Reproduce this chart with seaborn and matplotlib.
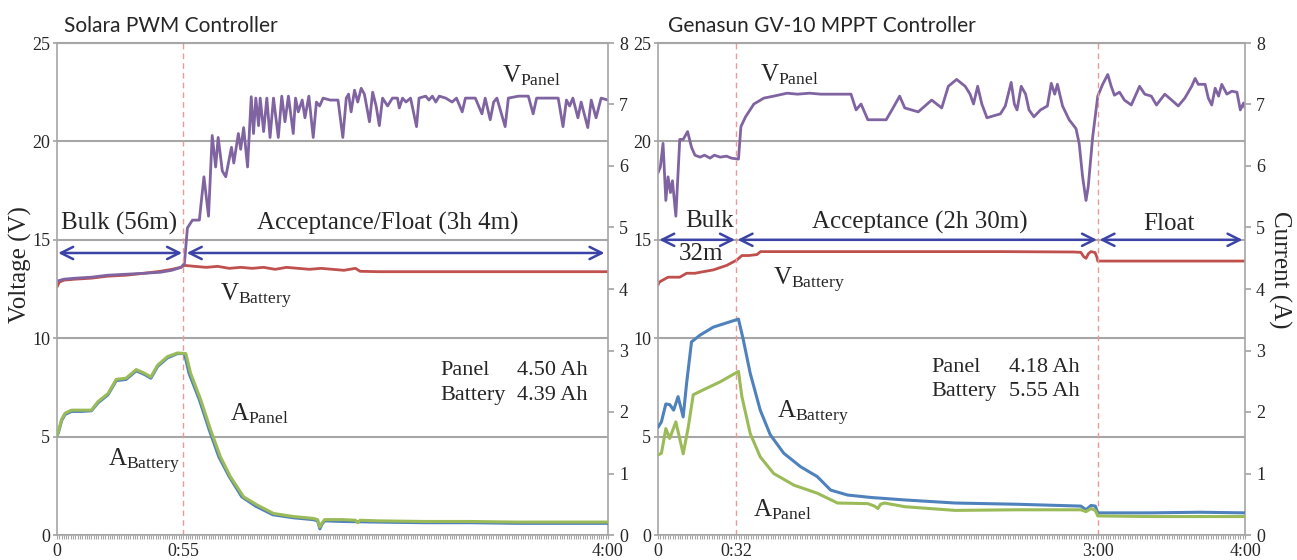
import numpy as np
import pandas as pd
import matplotlib.pyplot as plt
import seaborn as sns
from matplotlib.ticker import MultipleLocator

# ---- Solara PWM (left) ----
pwm_vp_t = [0, 3, 8, 15, 22, 30, 38, 45, 50, 54, 55.5, 56.8, 59, 62, 64, 66, 67.6, 69.1, 70.2, 72,
            73.5, 76, 77, 79, 80, 81.3, 83, 84.6, 85.6, 86.6, 87.8, 88.5, 90.0, 91.4, 92.8, 94.3, 96.4,
            97.9, 99.3, 100.8, 102.9, 103.9, 105.1, 106.8, 108.0, 109.7, 111.6, 113.0, 114.4, 115.9,
            119, 122.4, 124.5, 126.0, 127.0, 128.1, 129.6, 131.0, 132.5, 133.9, 136.1, 137.5, 139.0,
            140.4, 141.8, 144.0, 146.1, 148.3, 149.1, 150.5, 152.0, 154, 156.6, 157.7, 160.6, 162,
            163.5, 165, 166.5, 169.3, 172.1, 174, 176.5, 177.9, 182.2, 185.1, 186.5, 188.7, 190.2,
            191.6, 195.2, 196.6, 201.0, 205.3, 207.4, 208.9, 212.5, 218.3, 220.4, 221.9, 223.3, 224.7,
            226.9, 228.3, 231.2, 232.7, 234.8, 237.0, 240]
pwm_vp = [12.9, 13.0, 13.05, 13.1, 13.2, 13.25, 13.3, 13.35, 13.45, 13.6, 13.8, 15.6, 16.0, 16.0, 18.2,
          16.2, 20.3, 18.7, 20.2, 18.5, 18.2, 19.7, 18.9, 20.4, 19.6, 20.7, 18.7, 22.27, 20.4, 22.2,
          20.8, 22.2, 20.5, 22.2, 20.2, 22.2, 20.2, 22.3, 21.0, 22.3, 20.4, 22.2, 21.5, 22.1, 21.2,
          22.3, 20.2, 22.0, 21.8, 22.2, 22.1, 22.1, 20.2, 22.2, 22.4, 21.5, 22.6, 22.0, 22.7, 22.4,
          21.0, 22.5, 21.8, 20.8, 22.2, 21.8, 22.2, 22.2, 21.7, 22.2, 22.0, 22.2, 20.75, 22.2, 22.3,
          22.1, 22.3, 22.0, 22.3, 22.2, 22.0, 22.2, 21.5, 22.2, 22.2, 21.4, 22.2, 21.1, 22.0, 22.2,
          20.75, 22.2, 22.3, 22.3, 21.4, 22.2, 22.2, 22.2, 20.75, 22.1, 21.8, 22.2, 21.2, 22.0, 20.7,
          22.1, 21.2, 22.2, 22.1]

pwm_vb_t = [0, 1, 3, 8, 15, 22, 30, 38, 45, 50, 54, 55.5, 60, 65, 70, 75, 80, 85, 90, 95, 100, 105,
            110, 115, 120, 125, 130, 132, 140, 160, 180, 200, 220, 240]
pwm_vb = [12.6, 12.85, 12.95, 13.0, 13.05, 13.15, 13.2, 13.3, 13.4, 13.5, 13.6, 13.7, 13.65, 13.6,
          13.65, 13.55, 13.6, 13.55, 13.6, 13.5, 13.6, 13.55, 13.5, 13.55, 13.5, 13.45, 13.55, 13.4,
          13.38, 13.38, 13.38, 13.38, 13.38, 13.38]

pwm_ap_t = [0, 0.6, 2, 3.5, 6.3, 10.7, 15, 17.9, 22.2, 25.8, 30.1, 34.5, 38.1, 40.9, 43.8, 48.1, 52.5,
            56.1, 58.2, 62.6, 66.9, 71.2, 75.5, 81.3, 87.1, 94.3, 103, 111.6, 113.5, 114.5, 115.5,
            116.6, 124.5, 130, 131, 132, 140, 160, 180, 200, 220, 240]
pwm_ap = [1.62, 1.68, 1.88, 1.98, 2.03, 2.03, 2.03, 2.17, 2.30, 2.53, 2.55, 2.69, 2.63, 2.57, 2.76,
          2.90, 2.96, 2.95, 2.63, 2.20, 1.71, 1.27, 0.95, 0.62, 0.49, 0.35, 0.30, 0.27, 0.25, 0.13,
          0.20, 0.25, 0.25, 0.24, 0.20, 0.24, 0.23, 0.22, 0.22, 0.21, 0.21, 0.21]

pwm_ab_t = [0, 0.6, 2, 3.5, 6.3, 10.7, 15, 17.9, 22.2, 25.8, 30.1, 34.5, 38.1, 40.9, 43.8, 48.1, 52.5,
            55.5, 57.5, 62, 66.3, 70.5, 75, 80.5, 86.5, 94, 103, 111.6, 113.5, 114.5, 115.5, 116.6,
            124.5, 140, 160, 180, 200, 220, 240]
pwm_ab = [1.62, 1.66, 1.86, 1.96, 2.01, 2.01, 2.02, 2.15, 2.28, 2.51, 2.53, 2.67, 2.61, 2.55, 2.74,
          2.88, 2.95, 2.95, 2.63, 2.20, 1.71, 1.27, 0.95, 0.62, 0.47, 0.33, 0.28, 0.25, 0.23, 0.10,
          0.18, 0.23, 0.22, 0.21, 0.20, 0.20, 0.19, 0.19, 0.19]

# ---- Genasun GV-10 MPPT (right) ----
mppt_vp_t = [0, 0.96, 2.06, 3.2, 4.1, 5.1, 5.9, 7.3, 8.9, 10.3, 12.1, 13.7, 15.1, 17.2, 19, 21.3, 23,
             25.4, 28, 30, 32.9, 33.9, 35.8, 39.2, 43.3, 47.3, 52.8, 57, 62, 66.6, 72, 78.9, 81.0,
             83.0, 85.8, 89.9, 93.3, 96.1, 98.8, 100.9, 106.4, 111.9, 116.0, 118.7, 122.1, 125.6,
             127.6, 129.0, 130.7, 132.4, 134.5, 140.0, 142.0, 144.4, 145.7, 146.8, 148.5, 150.3,
             151.7, 153.7, 156.4, 159.2, 160.8, 162.2, 163.3, 165.4, 168.1, 170.9, 172.2, 173.6,
             175.0, 175.9, 177.7, 179.8, 181.8, 183.9, 185.3, 186.6, 188.7, 190.7, 193.5, 196.9,
             199.0, 201.7, 203.8, 207.2, 210.0, 212.7, 215.4, 218.2, 219.6, 220.9, 223.7, 225.0,
             226.4, 227.8, 229.2, 230.5, 232.6, 234.6, 236.7, 238.1, 239.4, 240]
mppt_vp = [18.4, 18.7, 19.9, 17.0, 18.2, 17.4, 18.0, 16.2, 20.1, 20.1, 20.5, 19.7, 19.3, 19.2, 19.3,
           19.15, 19.3, 19.2, 19.25, 19.15, 19.1, 20.75, 21.25, 21.9, 22.2, 22.3, 22.45, 22.4, 22.45,
           22.4, 22.4, 22.4, 21.6, 21.9, 21.1, 21.1, 21.1, 21.7, 22.3, 21.7, 21.5, 22.1, 21.7, 22.8,
           23.15, 22.8, 22.4, 21.9, 22.8, 21.9, 21.2, 21.4, 21.8, 23.0, 21.9, 21.6, 22.8, 22.4, 21.6,
           21.25, 21.6, 21.8, 22.95, 22.4, 22.9, 21.8, 21.1, 20.65, 19.9, 18.2, 17.0, 17.7, 20.2,
           22.3, 22.9, 23.4, 22.8, 22.35, 22.5, 22.1, 21.85, 22.8, 22.4, 22.3, 21.85, 22.4, 22.1,
           21.8, 22.2, 22.8, 23.2, 22.9, 22.9, 22.2, 21.85, 22.7, 22.3, 22.9, 22.4, 22.55, 22.5,
           21.6, 21.95, 21.7]

mppt_vb_t = [0, 0.5, 2.06, 4.1, 8.9, 11.7, 15.1, 17.2, 22.6, 28.1, 32.2, 34.3, 37, 40.5, 41.9, 60,
             100, 140, 170, 172.9, 174, 175, 176, 177, 178.7, 179.5, 179.8, 200, 220, 240]
mppt_vb = [12.7, 12.85, 12.96, 13.1, 13.1, 13.3, 13.3, 13.35, 13.47, 13.7, 13.97, 14.2, 14.2, 14.25,
           14.4, 14.4, 14.4, 14.4, 14.38, 14.36, 14.15, 14.06, 14.3, 14.4, 14.35, 14.1, 13.92, 13.92,
           13.92, 13.92]

mppt_ab_t = [0, 1.4, 3.2, 4.8, 6.4, 8.2, 10.3, 11.7, 13.7, 17.2, 22.6, 28.1, 32.9, 34.9, 37.7, 41.8,
             45.9, 51.4, 58.3, 65.1, 70.6, 77.5, 87.1, 100.9, 121.5, 146.8, 172.9, 175, 177, 178.8,
             179.8, 201.7, 221.6, 240]
mppt_ab = [1.75, 1.84, 2.13, 2.12, 2.03, 2.25, 1.92, 2.47, 3.14, 3.25, 3.38, 3.45, 3.51, 3.17, 2.63,
           2.03, 1.63, 1.33, 1.11, 0.95, 0.73, 0.65, 0.61, 0.57, 0.52, 0.50, 0.47, 0.41, 0.48, 0.47,
           0.36, 0.36, 0.37, 0.36]

mppt_ap_t = [0, 1.4, 3.2, 4.8, 7.3, 10.3, 12.4, 14.4, 18.5, 25.4, 32.9, 34.3, 37.7, 41.8, 47.3, 55.6,
             65.1, 73.4, 85.8, 88.5, 89.9, 91, 92.6, 100.9, 121.5, 146.8, 172.9, 175, 177, 178.8,
             179.8, 201.7, 240]
mppt_ap = [1.30, 1.33, 1.73, 1.57, 1.84, 1.32, 1.76, 2.28, 2.36, 2.49, 2.66, 2.25, 1.65, 1.27, 1.00,
           0.81, 0.68, 0.52, 0.51, 0.47, 0.43, 0.50, 0.52, 0.46, 0.40, 0.41, 0.41, 0.38, 0.43, 0.40,
           0.31, 0.30, 0.30]

# phase boundaries (minutes) and tick labels
pwm_ticks, pwm_ticklabels = [0, 55, 240], ['0', '0:55', '4:00']
mppt_ticks, mppt_ticklabels = [0, 32, 180, 240], ['0', '0:32', '3:00', '4:00']

C_VP, C_VB, C_AB, C_AP = '#8064A2', '#C0504D', '#4F81BD', '#9BBB59'
C_ARROW = '#3B44A6'
GRID = '#A6A6A6'

sns.set_theme(style='white')
plt.rcParams['font.family'] = ['Liberation Serif', 'DejaVu Serif']
plt.rcParams['mathtext.fontset'] = 'stix'

fig = plt.figure(figsize=(12.97, 5.6), dpi=100)
W, H = 1297, 560
ax1 = fig.add_axes([57 / W, 1 - 535 / H, 551 / W, 492 / H])
ax2 = fig.add_axes([658 / W, 1 - 535 / H, 587 / W, 492 / H])


def setup(ax, ticks, labels, left_labels=True):
    ax.set_xlim(0, 240)
    ax.set_ylim(0, 25)
    ax.set_yticks([0, 5, 10, 15, 20, 25])
    ax.grid(axis='y', color=GRID, lw=1.5)
    ax.grid(axis='x', visible=False)
    for s in ax.spines.values():
        s.set_color(GRID)
        s.set_linewidth(1.2)
    ax.spines['top'].set_linewidth(1.5)
    ax.set_xticks(ticks)
    ax.set_xticklabels(labels)
    ax.xaxis.set_minor_locator(MultipleLocator(1))
    ax.tick_params(axis='x', which='both', bottom=True, length=3, width=0.8, color=GRID,
                   labelsize=13, pad=3)
    ax.tick_params(axis='y', left=True, length=3, color=GRID, labelsize=13, pad=2)
    ax.set_xlabel('')
    ax.set_ylabel('')
    tw = ax.twinx()
    tw.set_ylim(0, 8)
    tw.set_yticks(range(0, 9))
    tw.tick_params(axis='y', right=True, length=4, color=GRID, labelsize=13, pad=4)
    tw.grid(False)
    for s in tw.spines.values():
        s.set_visible(False)
    return tw


tw1 = setup(ax1, pwm_ticks, pwm_ticklabels)
tw2 = setup(ax2, mppt_ticks, mppt_ticklabels)

kw = dict(estimator=None, legend=False, sort=False)
sns.lineplot(x=pwm_vb_t, y=pwm_vb, ax=ax1, color=C_VB, lw=2, **kw)
sns.lineplot(x=pwm_vp_t, y=pwm_vp, ax=ax1, color=C_VP, lw=2, **kw)
sns.lineplot(x=pwm_ab_t, y=pwm_ab, ax=tw1, color=C_AB, lw=2.2, **kw)
sns.lineplot(x=pwm_ap_t, y=pwm_ap, ax=tw1, color=C_AP, lw=2.2, **kw)

sns.lineplot(x=mppt_vb_t, y=mppt_vb, ax=ax2, color=C_VB, lw=2, **kw)
sns.lineplot(x=mppt_vp_t, y=mppt_vp, ax=ax2, color=C_VP, lw=2, **kw)
sns.lineplot(x=mppt_ab_t, y=mppt_ab, ax=tw2, color=C_AB, lw=2.2, **kw)
sns.lineplot(x=mppt_ap_t, y=mppt_ap, ax=tw2, color=C_AP, lw=2.2, **kw)

for tw in (tw1, tw2):
    tw.set_xlabel('')
    tw.set_ylabel('')

# phase boundaries
ax1.axvline(55, color='#E89A9A', lw=1, ls=(0, (4, 3)))
ax2.axvline(32, color='#E89A9A', lw=1, ls=(0, (4, 3)))
ax2.axvline(180, color='#E89A9A', lw=1, ls=(0, (4, 3)))

arrow = dict(arrowstyle='<->', color=C_ARROW, lw=1.8, mutation_scale=22, shrinkA=0, shrinkB=0)
for ax, y, segs in [(ax1, 14.33, [(0.5, 54.5), (56.5, 238.5)]),
                    (ax2, 15.0, [(0.5, 31.5), (32.5, 179.5), (180.5, 239)])]:
    for a, b in segs:
        ax.annotate('', xy=(b, y), xytext=(a, y), arrowprops=arrow)

tk = dict(fontsize=18, va='baseline')
ax1.text(1.7, 15.5, 'Bulk (56m)', **tk)
ax1.text(87, 15.5, 'Acceptance/Float (3h 4m)', **tk)
ax2.text(11, 15.67, 'Bulk', **tk)
ax2.text(8.3, 13.97, '32m', **tk)
ax2.text(62.8, 15.58, 'Acceptance (2h 30m)', **tk)
ax2.text(198.4, 15.5, 'Float', **tk)

ax1.text(193.8, 23.0, r'$\mathregular{V_{Panel}}$', **tk)
ax1.text(71.0, 11.85, r'$\mathregular{V_{Battery}}$', **tk)
ax1.text(75.4, 5.84, r'$\mathregular{A_{Panel}}$', **tk)
ax1.text(22.2, 3.47, r'$\mathregular{A_{Battery}}$', **tk)
ax2.text(41.7, 23.03, r'$\mathregular{V_{Panel}}$', **tk)
ax2.text(47.1, 12.7, r'$\mathregular{V_{Battery}}$', **tk)
ax2.text(48.5, 5.93, r'$\mathregular{A_{Battery}}$', **tk)
ax2.text(39.0, 0.93, r'$\mathregular{A_{Panel}}$', **tk)

sk = dict(fontsize=16, va='center')
ax1.text(166.8, 8.38, 'Panel', **sk)
ax1.text(166.8, 7.1, 'Battery', **sk)
ax1.text(200.4, 8.38, '4.50 Ah', **sk)
ax1.text(200.4, 7.1, '4.39 Ah', **sk)
ax2.text(111.6, 8.5, 'Panel', **sk)
ax2.text(111.6, 7.27, 'Battery', **sk)
ax2.text(143.5, 8.5, '4.18 Ah', **sk)
ax2.text(143.5, 7.27, '5.55 Ah', **sk)

fig.text(64 / W, 1 - 32 / H, 'Solara PWM Controller', family=['Lato', 'DejaVu Sans'],
         fontsize=15, va='baseline')
fig.text(668 / W, 1 - 32 / H, 'Genasun GV-10 MPPT Controller', family=['Lato', 'DejaVu Sans'],
         fontsize=15, va='baseline')
fig.text(20 / W, 1 - 265 / H, 'Voltage (V)', rotation=90, fontsize=18, ha='center', va='center')
fig.text(1280 / W, 1 - 270 / H, 'Current (A)', rotation=270, fontsize=18, ha='center', va='center')

fig.savefig('out.png', dpi=100)
